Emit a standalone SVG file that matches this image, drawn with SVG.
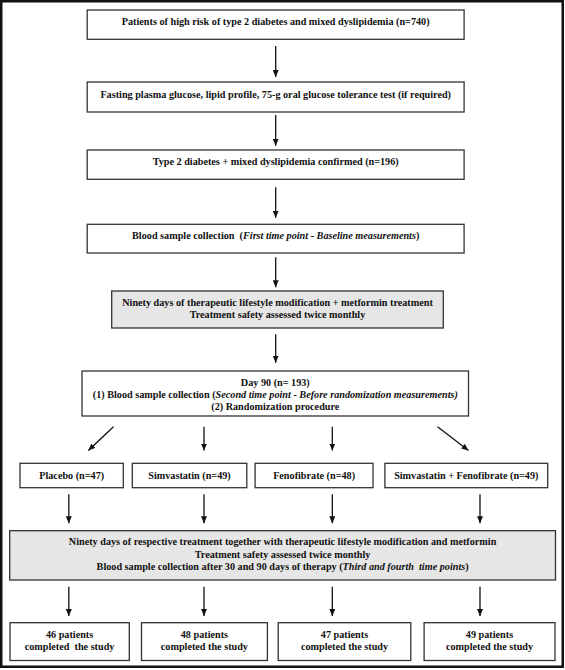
<svg xmlns="http://www.w3.org/2000/svg" width="565" height="670" viewBox="0 0 565 670">
<defs>
<marker id="ah" viewBox="0 0 10 10" refX="10" refY="5" markerWidth="7" markerHeight="6" markerUnits="userSpaceOnUse" orient="auto" preserveAspectRatio="none">
<path d="M0,0 L10,5 L0,10 z" fill="#111"/>
</marker>
<style>
.bx{fill:#fff;stroke:#333;stroke-width:1.3}
.gy{fill:#e6e6e6;stroke:#333;stroke-width:1.3}
.t{font-family:"Liberation Serif","Times New Roman",serif;font-weight:bold;font-size:10.2px;fill:#111;text-anchor:middle;white-space:pre}
.i{font-style:italic}
.c line{stroke:#111;stroke-width:1.3;marker-end:url(#ah)}
</style>
</defs>
<rect x="1.25" y="1.25" width="561.5" height="665.5" fill="#fff" stroke="#111" stroke-width="2.5"/>
<g id="n1"><rect class="bx" x="87.2" y="10" width="376.9" height="29.3"/><text class="t" x="275.7" y="25.3">Patients of high risk of type 2 diabetes and mixed dyslipidemia (n=740)</text></g>
<g id="n2"><rect class="bx" x="87.2" y="82" width="376.9" height="30"/><text class="t" x="275.7" y="98">Fasting plasma glucose, lipid profile, 75-g oral glucose tolerance test (if required)</text></g>
<g id="n3"><rect class="bx" x="87.2" y="150" width="376.9" height="29.3"/><text class="t" x="275.7" y="165.2">Type 2 diabetes + mixed dyslipidemia confirmed (n=196)</text></g>
<g id="n4"><rect class="bx" x="87.2" y="224.3" width="376.9" height="28.7"/><text class="t" x="275.7" y="238.7">Blood sample collection  (<tspan class="i">First time point - Baseline measurements</tspan>)</text></g>
<g id="n5"><rect class="gy" x="111.7" y="291" width="331.6" height="37"/><text class="t" x="277.5" y="306.2">Ninety days of therapeutic lifestyle modification + metformin treatment</text><text class="t" x="277.5" y="318.2">Treatment safety assessed twice monthly</text></g>
<g id="n6"><rect class="bx" x="82" y="371" width="386.5" height="45"/><text class="t" x="275.3" y="385.7">Day 90 (n= 193)</text><text class="t" x="275.3" y="398">(1) Blood sample collection (<tspan class="i">Second time point - Before randomization measurements)</tspan></text><text class="t" x="275.3" y="410.3">(2) Randomization procedure</text></g>
<g id="n7"><rect class="bx" x="20" y="463.3" width="103.3" height="24.4"/><text class="t" x="71.7" y="478.8">Placebo (n=47)</text></g>
<g id="n8"><rect class="bx" x="132.3" y="463.3" width="114.5" height="24.4"/><text class="t" x="189.5" y="478.8">Simvastatin (n=49)</text></g>
<g id="n9"><rect class="bx" x="255.1" y="463.3" width="117.9" height="24.4"/><text class="t" x="314.1" y="478.8">Fenofibrate (n=48)</text></g>
<g id="n10"><rect class="bx" x="384.9" y="463.3" width="162.8" height="24.4"/><text class="t" x="466.3" y="478.8">Simvastatin + Fenofibrate (n=49)</text></g>
<g id="n11"><rect class="gy" x="9.7" y="530.7" width="545.8" height="49.3"/><text class="t" x="282.6" y="545.3">Ninety days of respective treatment together with therapeutic lifestyle modification and metformin</text><text class="t" x="282.6" y="557.6">Treatment safety assessed twice monthly</text><text class="t" x="282.6" y="569.7">Blood sample collection after 30 and 90 days of therapy (<tspan class="i">Third and fourth  time points</tspan>)</text></g>
<g id="n12"><rect class="bx" x="10" y="622.7" width="119.3" height="37.8"/><text class="t" x="69.6" y="637.7">46 patients</text><text class="t" x="69.6" y="650">completed  the study</text></g>
<g id="n13"><rect class="bx" x="141.5" y="622.7" width="125.9" height="37.8"/><text class="t" x="204.4" y="637.7">48 patients</text><text class="t" x="204.4" y="650">completed the study</text></g>
<g id="n14"><rect class="bx" x="278.2" y="622.7" width="132.6" height="37.8"/><text class="t" x="344.5" y="637.7">47 patients</text><text class="t" x="344.5" y="650">completed the study</text></g>
<g id="n15"><rect class="bx" x="424.1" y="622.7" width="130.9" height="37.8"/><text class="t" x="489.5" y="637.7">49 patients</text><text class="t" x="489.5" y="650">completed the study</text></g>
<g id="connectors" class="c">
<line x1="275.7" y1="46" x2="275.7" y2="77"/>
<line x1="275.7" y1="115" x2="275.7" y2="145.7"/>
<line x1="275.7" y1="187.3" x2="275.7" y2="217.7"/>
<line x1="275.7" y1="257.3" x2="275.7" y2="287.3"/>
<line x1="275.7" y1="334.3" x2="275.7" y2="362.7"/>
<line x1="113.5" y1="426.7" x2="88.3" y2="450.5"/>
<line x1="204" y1="426.7" x2="204" y2="450.5"/>
<line x1="332.3" y1="426.7" x2="332.3" y2="450.5"/>
<line x1="437.5" y1="426.7" x2="468.5" y2="450.5"/>
<line x1="68.8" y1="494.3" x2="68.8" y2="523.3"/>
<line x1="204" y1="494.3" x2="204" y2="523.3"/>
<line x1="332.3" y1="494.3" x2="332.3" y2="523.3"/>
<line x1="480" y1="494.3" x2="480" y2="523.3"/>
<line x1="68.8" y1="586.7" x2="68.8" y2="616"/>
<line x1="204" y1="586.7" x2="204" y2="616"/>
<line x1="332.3" y1="586.7" x2="332.3" y2="616"/>
<line x1="480" y1="586.7" x2="480" y2="616"/>
</g>
</svg>
